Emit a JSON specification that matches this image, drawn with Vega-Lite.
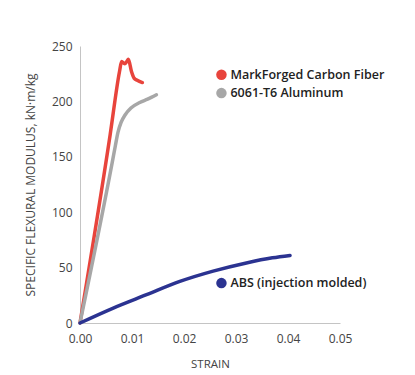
{
  "$schema": "https://vega.github.io/schema/vega-lite/v6.json",
  "width": 260,
  "height": 277,
  "autosize": {"type": "none"},
  "padding": {"left": 80, "top": 46, "right": 75, "bottom": 52},
  "background": "#ffffff",
  "config": {
    "view": {"stroke": null},
    "font": "Open Sans",
    "axis": {"grid": false, "domainColor": "#c4c4c4", "labelColor": "#444444", "labelFontSize": 12, "titleColor": "#444444", "titleFontWeight": "normal", "labelOverlap": false, "labelBound": false, "labelFlush": false}
  },
  "datasets": {
    "curves": [
      {"series": "MarkForged Carbon Fiber", "i": 0, "strain": 0, "modulus": 0},
      {"series": "MarkForged Carbon Fiber", "i": 1, "strain": 0.0058, "modulus": 170},
      {"series": "MarkForged Carbon Fiber", "i": 2, "strain": 0.0076, "modulus": 227},
      {"series": "MarkForged Carbon Fiber", "i": 3, "strain": 0.0080, "modulus": 236},
      {"series": "MarkForged Carbon Fiber", "i": 4, "strain": 0.0086, "modulus": 234},
      {"series": "MarkForged Carbon Fiber", "i": 5, "strain": 0.0090, "modulus": 236},
      {"series": "MarkForged Carbon Fiber", "i": 6, "strain": 0.0093, "modulus": 238},
      {"series": "MarkForged Carbon Fiber", "i": 7, "strain": 0.0099, "modulus": 227},
      {"series": "MarkForged Carbon Fiber", "i": 8, "strain": 0.0104, "modulus": 221},
      {"series": "MarkForged Carbon Fiber", "i": 9, "strain": 0.0110, "modulus": 219},
      {"series": "MarkForged Carbon Fiber", "i": 10, "strain": 0.0120, "modulus": 217},
      {"series": "6061-T6 Aluminum", "i": 0, "strain": 0, "modulus": 0},
      {"series": "6061-T6 Aluminum", "i": 1, "strain": 0.0062, "modulus": 145},
      {"series": "6061-T6 Aluminum", "i": 2, "strain": 0.0068, "modulus": 160},
      {"series": "6061-T6 Aluminum", "i": 3, "strain": 0.0073, "modulus": 172},
      {"series": "6061-T6 Aluminum", "i": 4, "strain": 0.0079, "modulus": 181},
      {"series": "6061-T6 Aluminum", "i": 5, "strain": 0.0087, "modulus": 188},
      {"series": "6061-T6 Aluminum", "i": 6, "strain": 0.0098, "modulus": 194},
      {"series": "6061-T6 Aluminum", "i": 7, "strain": 0.0115, "modulus": 199},
      {"series": "6061-T6 Aluminum", "i": 8, "strain": 0.0130, "modulus": 202},
      {"series": "6061-T6 Aluminum", "i": 9, "strain": 0.0147, "modulus": 206},
      {"series": "ABS (injection molded)", "i": 0, "strain": 0, "modulus": 0},
      {"series": "ABS (injection molded)", "i": 1, "strain": 0.0064, "modulus": 13.5},
      {"series": "ABS (injection molded)", "i": 2, "strain": 0.0128, "modulus": 25.5},
      {"series": "ABS (injection molded)", "i": 3, "strain": 0.0192, "modulus": 37.5},
      {"series": "ABS (injection molded)", "i": 4, "strain": 0.0256, "modulus": 46.8},
      {"series": "ABS (injection molded)", "i": 5, "strain": 0.0320, "modulus": 54.2},
      {"series": "ABS (injection molded)", "i": 6, "strain": 0.0370, "modulus": 58.8},
      {"series": "ABS (injection molded)", "i": 7, "strain": 0.0404, "modulus": 61}
    ],
    "legend": [
      {"series": "MarkForged Carbon Fiber", "strain": 0.0272, "modulus": 224},
      {"series": "6061-T6 Aluminum", "strain": 0.0272, "modulus": 207.5},
      {"series": "ABS (injection molded)", "strain": 0.0272, "modulus": 36}
    ],
    "xticks": [
      {"t": 0.002}, {"t": 0.004}, {"t": 0.006}, {"t": 0.008}, {"t": 0.01}, {"t": 0.012}, {"t": 0.014}, {"t": 0.016}, {"t": 0.018}, {"t": 0.02},
      {"t": 0.022}, {"t": 0.024}, {"t": 0.026}, {"t": 0.028}, {"t": 0.03}, {"t": 0.032}, {"t": 0.034}, {"t": 0.036}, {"t": 0.038}, {"t": 0.04},
      {"t": 0.042}, {"t": 0.044}, {"t": 0.046}, {"t": 0.048}, {"t": 0.05}
    ],
    "yticks": [
      {"t": 10}, {"t": 20}, {"t": 30}, {"t": 40}, {"t": 50}, {"t": 60}, {"t": 70}, {"t": 80}, {"t": 90}, {"t": 100},
      {"t": 110}, {"t": 120}, {"t": 130}, {"t": 140}, {"t": 150}, {"t": 160}, {"t": 170}, {"t": 180}, {"t": 190}, {"t": 200},
      {"t": 210}, {"t": 220}, {"t": 230}, {"t": 240}, {"t": 250}
    ]
  },
  "encoding": {
    "x": {"field": "strain", "type": "quantitative",
      "scale": {"domain": [0, 0.05], "nice": false, "zero": false},
      "axis": {"title": "STRAIN", "titleFontSize": 11.5, "ticks": false,
        "values": [0, 0.01, 0.02, 0.03, 0.04, 0.05], "format": ".2f",
        "labelPadding": 10, "titlePadding": 14}},
    "y": {"field": "modulus", "type": "quantitative",
      "scale": {"domain": [0, 250], "nice": false},
      "axis": {"title": "SPECIFIC FLEXURAL MODULUS, kN·m/kg", "titleFontSize": 12, "ticks": false,
        "values": [0, 50, 100, 150, 200, 250],
        "labelPadding": 8, "titlePadding": 14}},
    "color": {"field": "series", "type": "nominal", "legend": null,
      "scale": {"domain": ["MarkForged Carbon Fiber", "6061-T6 Aluminum", "ABS (injection molded)"], "range": ["#e8443c", "#a7a7a7", "#2b3391"]}}
  },
  "layer": [
    {"data": {"name": "xticks"},
     "mark": {"type": "tick", "orient": "vertical", "size": 6, "thickness": 1, "color": "#bdbdbd", "yOffset": -3},
     "encoding": {"x": {"field": "t", "type": "quantitative"}, "y": {"datum": 0, "type": "quantitative"}, "color": {"value": "#bdbdbd"}}},
    {"data": {"name": "yticks"},
     "mark": {"type": "tick", "orient": "horizontal", "size": 6, "thickness": 1, "color": "#bdbdbd", "xOffset": 3},
     "encoding": {"y": {"field": "t", "type": "quantitative"}, "x": {"datum": 0, "type": "quantitative"}, "color": {"value": "#bdbdbd"}}},
    {"data": {"name": "curves"},
     "mark": {"type": "line", "strokeWidth": 3.5, "interpolate": "monotone", "strokeCap": "round", "strokeJoin": "round"},
     "encoding": {"order": {"field": "i", "type": "quantitative"}}},
    {"data": {"name": "legend"},
     "mark": {"type": "point", "filled": true, "opacity": 1, "size": 110}},
    {"data": {"name": "legend"},
     "mark": {"type": "text", "align": "left", "dx": 9, "fontSize": 12.5, "fontWeight": 600, "color": "#222222"},
     "encoding": {"text": {"field": "series"}, "color": {"value": "#222222"}}}
  ]
}
